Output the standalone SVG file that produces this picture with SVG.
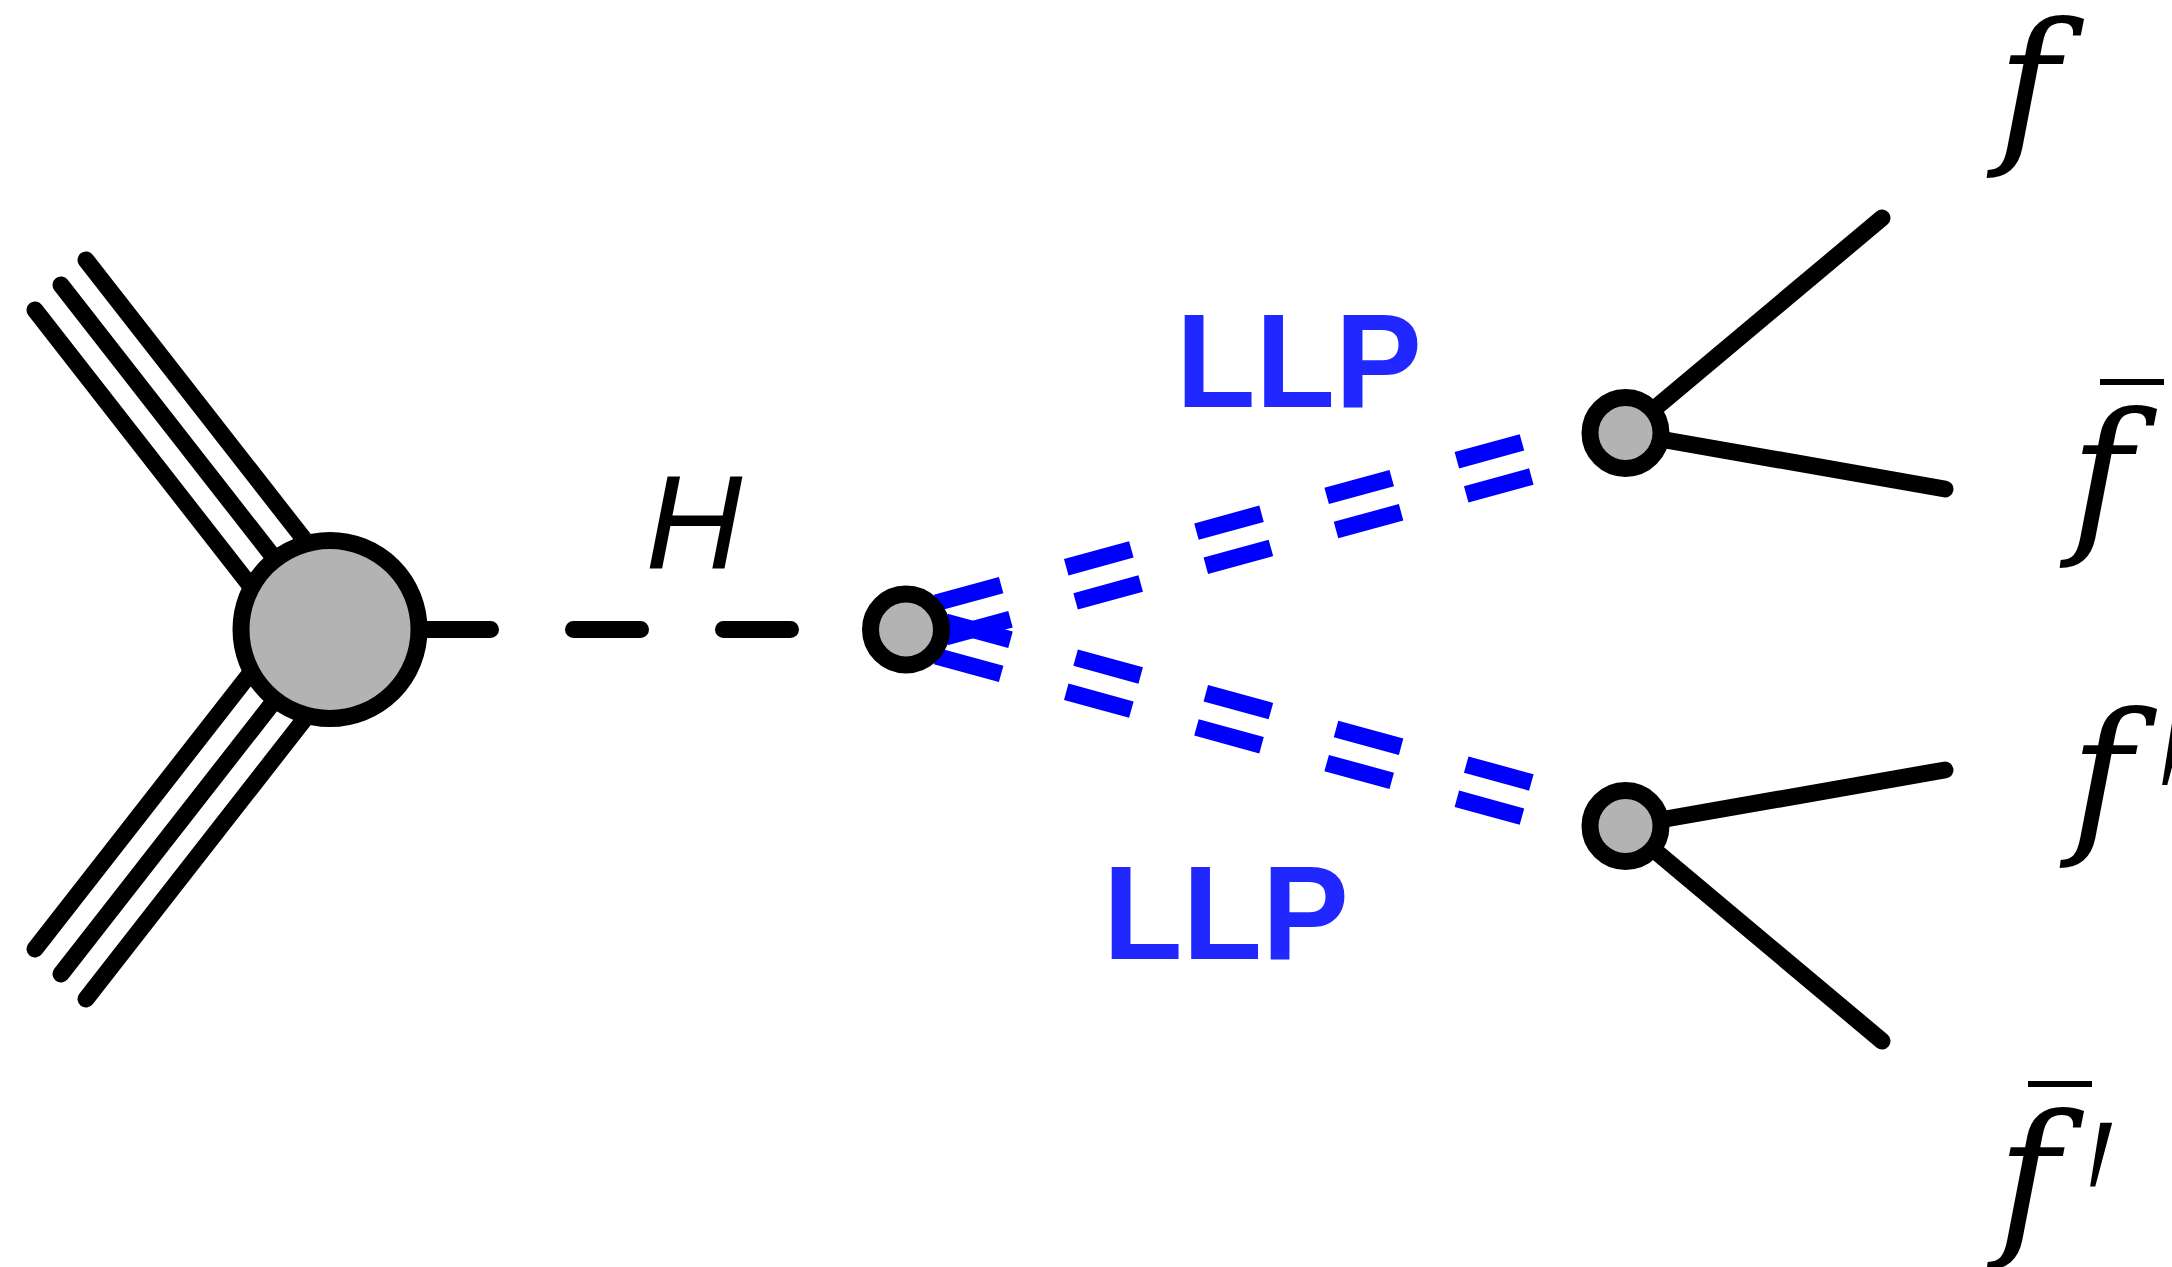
<svg xmlns="http://www.w3.org/2000/svg" width="2172" height="1267" viewBox="0 0 2172 1267">
  <style>
    .line { stroke: #000; stroke-width: 17; stroke-linecap: round; fill: none; }
    .higgs { stroke: #000; stroke-width: 17; stroke-linecap: round; stroke-dasharray: 67 83; fill: none; }
    .llp { stroke: #0000ff; stroke-width: 17; stroke-linecap: butt; stroke-dasharray: 67.5 67.5; fill: none; }
    .vertex { fill: #b3b3b3; stroke: #000; stroke-width: 17; }
    .math { font-family: "DejaVu Serif", "Liberation Serif", serif; font-style: italic; font-size: 168px; fill: #000; }
    .hlabel { font-family: "Liberation Sans", Arial, sans-serif; font-style: italic; fill: #000; }
    .prime { font-family: "DejaVu Serif", "Liberation Serif", serif; font-size: 200px; fill: #000; }
    .tag { font-family: "Liberation Sans", Arial, sans-serif; font-weight: bold; font-size: 134px; fill: #2128ff; }
    .bar { fill: #000; }
  </style>

  <!-- propagators -->
  <g id="connectors">
    <!-- incoming beams (triple lines) -->
    <line class="line" x1="35" y1="310" x2="281.2" y2="625.3"/>
    <line class="line" x1="61" y1="285" x2="307.2" y2="600.3"/>
    <line class="line" x1="86" y1="260" x2="332.2" y2="575.3"/>
    <line class="line" x1="35" y1="949" x2="281.2" y2="633.7"/>
    <line class="line" x1="61" y1="974" x2="307.2" y2="658.7"/>
    <line class="line" x1="86" y1="999" x2="332.2" y2="683.7"/>

    <!-- Higgs propagator -->
    <path class="higgs" d="M423.5 629.5 H791"/>

    <!-- LLP double dashed lines -->
    <g transform="translate(906 629.5) rotate(-15.32)">
      <line class="llp" x1="36" y1="-17.7" x2="643.5" y2="-17.7"/>
      <line class="llp" x1="36" y1="17.7" x2="643.5" y2="17.7"/>
    </g>
    <g transform="translate(906 629.5) rotate(15.32)">
      <line class="llp" x1="36" y1="-17.7" x2="643.5" y2="-17.7"/>
      <line class="llp" x1="36" y1="17.7" x2="643.5" y2="17.7"/>
    </g>

    <!-- decay products -->
    <line class="line" x1="1625.5" y1="433" x2="1882" y2="218"/>
    <line class="line" x1="1625.5" y1="433" x2="1945" y2="489"/>
    <line class="line" x1="1625.5" y1="826" x2="1945" y2="770"/>
    <line class="line" x1="1625.5" y1="826" x2="1882" y2="1041"/>
  </g>

  <!-- vertices -->
  <g id="blob">
    <circle class="vertex" cx="330" cy="629.5" r="89"/>
  </g>
  <g id="vertex-h">
    <circle class="vertex" cx="906" cy="629.5" r="35.5"/>
  </g>
  <g id="vertex-llp-1">
    <circle class="vertex" cx="1625.5" cy="433" r="35.5"/>
  </g>
  <g id="vertex-llp-2">
    <circle class="vertex" cx="1625.5" cy="826" r="35.5"/>
  </g>

  <!-- labels -->
  <g id="label-h">
    <text class="hlabel" x="694" y="568.7" font-size="134" text-anchor="middle">H</text>
  </g>
  <g id="label-llp-1">
    <text class="tag" x="1176" y="406.7" textLength="246" lengthAdjust="spacingAndGlyphs">LLP</text>
  </g>
  <g id="label-llp-2">
    <text class="tag" x="1103" y="958.5" textLength="246" lengthAdjust="spacingAndGlyphs">LLP</text>
  </g>
  <g id="label-f">
    <text class="math" x="1997" y="143">f</text>
  </g>
  <g id="label-fbar">
    <rect class="bar" x="2100" y="379" width="64" height="6"/>
    <text class="math" x="2070" y="533">f</text>
  </g>
  <g id="label-fprime">
    <text class="math" x="2070" y="833">f</text>
    <text class="prime" transform="translate(2159.8 976.5) scale(0.6 1.75)">′</text>
  </g>
  <g id="label-fbarprime">
    <rect class="bar" x="2028" y="1081" width="64" height="6"/>
    <text class="math" x="1997" y="1235">f</text>
    <text class="prime" transform="translate(2087.8 1378) scale(0.6 1.75)">′</text>
  </g>
</svg>
